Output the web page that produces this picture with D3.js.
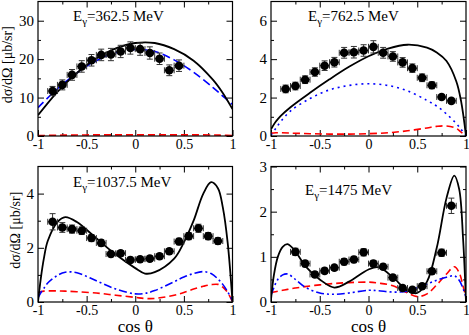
<!DOCTYPE html>
<html lang="en">
<head>
    <meta charset="UTF-8">
    <title>Cross sections</title>
    <script src="https://d3js.org/d3.v7.min.js"></script>
    <style>
        body { margin: 0; background: white; }
        svg, svg text { font-family: "Liberation Serif", "DejaVu Serif", "Times New Roman", serif; }
        .frame { fill: none; stroke: black; stroke-width: 1.2px; }
        .axis path { display: none; }
        .axis line { stroke: black; stroke-width: 1px; }
        .axis text { font-size: 15px; fill: black; }
        .xaxis text { font-size: 14px; }
        .err { stroke: #333; stroke-width: 1px; }
    </style>
</head>
<body>
<svg id="canvas" width="469" height="335"></svg>
<script>
    // bin centres in cos theta
    const cosBins = [-0.85,-0.75,-0.65,-0.55,-0.45,-0.35,-0.25,-0.15,-0.05,0.05,0.15,0.25,0.35,0.45,0.55,0.65,0.75,0.85];

    // 362.5 MeV
    const d362 = [11.7,13.3,15.9,18.1,19.7,21.1,21.2,22.0,22.9,22.6,21.6,20.1,17.1,18.3];
    const e362 = [1.2,1.3,1.4,1.5,1.5,1.5,1.6,1.6,1.6,1.6,1.6,1.5,1.4,1.5];
    const g362 = [-1,-0.8,-0.6,-0.4,-0.2,0,0.2,0.4,0.6,0.8,0.9,1];
    const full362 = [5.4,11.5,16.4,20.2,22.8,24.2,24.2,22.6,19.6,14.6,11.2,7.0];
    const blue362 = [7.4,12.3,16.4,19.6,21.7,22.5,22.0,19.8,16.6,12.6,10.4,8.2];
    const red362 = [0.1,0.2,0.25,0.3,0.3,0.3,0.3,0.3,0.3,0.25,0.2,0.1];

    // 762.5 MeV
    const d762 = [2.45,2.6,2.93,3.33,3.66,3.84,4.33,4.36,4.45,4.64,4.33,4.14,3.83,3.53,3.03,2.64,2.03,1.83];
    const e762 = [0.2,0.2,0.2,0.22,0.25,0.25,0.28,0.3,0.3,0.32,0.28,0.25,0.25,0.22,0.2,0.18,0.12,0.12];
    const g762 = [-1,-0.95,-0.9,-0.8,-0.6,-0.4,-0.2,0,0.2,0.4,0.6,0.7,0.8,0.9,0.95,1];
    const full762 = [0.35,0.75,1.05,1.5,2.25,2.95,3.6,4.15,4.55,4.75,4.6,4.35,3.9,2.85,1.8,0];
    const blue762 = [0.05,0.4,0.75,1.3,1.95,2.4,2.63,2.72,2.63,2.35,1.85,1.55,1.15,0.65,0.35,0];
    const red762 = [0.15,0.17,0.17,0.15,0.12,0.1,0.1,0.12,0.17,0.27,0.42,0.5,0.52,0.4,0.2,0];

    // 1037.5 MeV
    const d1037 = [2.96,2.75,2.69,2.63,2.36,2.18,1.77,1.8,1.55,1.58,1.6,1.69,1.87,2.23,2.43,2.72,2.43,2.25];
    const e1037 = [0.3,0.18,0.15,0.14,0.13,0.12,0.1,0.1,0.1,0.1,0.1,0.1,0.1,0.12,0.13,0.15,0.13,0.12];
    const g1037 = [-1,-0.97,-0.94,-0.9,-0.8,-0.72,-0.6,-0.4,-0.2,0,0.1,0.2,0.4,0.5,0.6,0.7,0.78,0.85,0.9,0.95,1];
    const full1037 = [0,0.9,1.6,2.25,2.95,3.13,2.95,2.35,1.75,1.25,1.05,1.1,1.6,2.2,3.0,4.0,4.42,4.2,3.5,2.2,0];
    const dashDot1037 = [0.15,0.35,0.5,0.7,0.98,1.1,1.08,0.78,0.48,0.3,0.32,0.42,0.75,0.92,1.05,1.12,1.05,0.85,0.65,0.38,0.05];
    const red1037 = [0.35,0.38,0.4,0.41,0.41,0.4,0.38,0.33,0.25,0.17,0.13,0.13,0.25,0.35,0.48,0.58,0.64,0.65,0.55,0.35,0];

    // 1475 MeV
    const d1475 = [1.11,0.85,0.61,0.69,0.76,0.89,0.94,1.10,0.85,0.78,0.54,0.31,0.27,0.35,0.68,1.09,2.13];
    const e1475 = [0.08,0.07,0.06,0.06,0.06,0.07,0.07,0.08,0.07,0.06,0.05,0.04,0.04,0.05,0.06,0.08,0.17];
    const g1475 = [-1,-0.97,-0.93,-0.88,-0.83,-0.75,-0.65,-0.5,-0.35,-0.2,0,0.1,0.25,0.4,0.5,0.6,0.7,0.8,0.88,0.93,0.97,1];
    const full1475 = [0.05,0.6,1.0,1.22,1.28,1.12,0.8,0.5,0.32,0.45,0.72,0.77,0.55,0.25,0.2,0.45,1.2,2.3,2.8,2.5,1.4,0];
    const red1475 = [0.2,0.22,0.24,0.26,0.28,0.31,0.34,0.38,0.41,0.43,0.44,0.42,0.36,0.2,0.12,0.18,0.38,0.62,0.78,0.65,0.35,0.1];
    const dashDotDot1475 = [0.15,0.32,0.5,0.6,0.62,0.5,0.33,0.2,0.17,0.2,0.26,0.25,0.22,0.24,0.32,0.4,0.48,0.55,0.58,0.48,0.3,0.1];

    const xMajor = [-1,-0.5,0,0.5,1];
    const xMinor = [-0.75,-0.25,0.25,0.75];

    let svg = d3.select('#canvas');

    let panels = [
        {energy:'362.5', x:38, y:1.5, w:194.5, h:134.5, ymax:35, major:[0,10,20,30], minor:[5,15,25],
         px:cosBins.slice(0,14), py:d362, pe:e362, grid:g362, tx:73, ty:21, labX:12,
         curves:[{v:red362, c:'red', dash:'7,4'},{v:blue362, c:'blue', dash:'8,4'},{v:full362, c:'black', dash:null}]},
        {energy:'762.5', x:271, y:1.5, w:195, h:134.5, ymax:7, major:[0,2,4,6], minor:[1,3,5],
         px:cosBins, py:d762, pe:e762, grid:g762, tx:308, ty:21,
         curves:[{v:red762, c:'red', dash:'7,4'},{v:blue762, c:'blue', dash:'2,4'},{v:full762, c:'black', dash:null}]},
        {energy:'1037.5', x:38, y:166.5, w:194.5, h:135.5, ymax:5, major:[0,2,4], minor:[1,3], xlabel:true,
         px:cosBins, py:d1037, pe:e1037, grid:g1037, tx:73, ty:187, labX:20,
         curves:[{v:red1037, c:'red', dash:'7,4'},{v:dashDot1037, c:'blue', dash:'8,3,2,3'},{v:full1037, c:'black', dash:null}]},
        {energy:'1475', x:271, y:166.5, w:195, h:135.5, ymax:3, major:[0,1,2,3], minor:[0.5,1.5,2.5], xlabel:true,
         px:cosBins.slice(1), py:d1475, pe:e1475, grid:g1475, tx:305, ty:195,
         curves:[{v:red1475, c:'red', dash:'7,4'},{v:dashDotDot1475, c:'blue', dash:'8,3,2,3,2,3'},{v:full1475, c:'black', dash:null}]}
    ];

    // axis helper: strip d3's own font settings so the serif face applies
    function addAxis(g, axis, tx, ty, cls){
        g.append('g').attr('class','axis ' + (cls || '')).attr('transform','translate('+tx+','+ty+')')
            .call(axis)
            .attr('font-family', null)
            .attr('font-size', null);
    }
    // plain hyphen minus, like the original plot
    let plain = function(d){ return String(d); };

    panels.forEach(function(p){
        let xs = d3.scaleLinear().domain([-1,1]).range([p.x, p.x+p.w]);
        let ys = d3.scaleLinear().domain([0,p.ymax]).range([p.y+p.h, p.y]);
        let g = svg.append('g');

        let clipId = 'clip' + p.energy.replace('.','_');
        g.append('clipPath').attr('id', clipId)
            .append('rect').attr('x', p.x).attr('y', p.y).attr('width', p.w).attr('height', p.h);

        // ticks, inward on all four sides
        addAxis(g, d3.axisBottom(xs).tickValues(xMajor).tickSizeInner(-6).tickPadding(3).tickFormat(plain), 0, p.y+p.h, 'xaxis');
        addAxis(g, d3.axisBottom(xs).tickValues(xMinor).tickSizeInner(-3).tickFormat(''), 0, p.y+p.h);
        addAxis(g, d3.axisTop(xs).tickValues(xMajor.slice(1,4)).tickSizeInner(-6).tickFormat(''), 0, p.y);
        addAxis(g, d3.axisTop(xs).tickValues(xMinor).tickSizeInner(-3).tickFormat(''), 0, p.y);
        addAxis(g, d3.axisLeft(ys).tickValues(p.major).tickSizeInner(-6).tickPadding(4).tickFormat(plain), p.x, 0);
        addAxis(g, d3.axisLeft(ys).tickValues(p.minor).tickSizeInner(-3).tickFormat(''), p.x, 0);
        addAxis(g, d3.axisRight(ys).tickValues(p.major).tickSizeInner(-6).tickFormat(''), p.x+p.w, 0);
        addAxis(g, d3.axisRight(ys).tickValues(p.minor).tickSizeInner(-3).tickFormat(''), p.x+p.w, 0);

        // model curves
        let line = d3.line()
            .x(function(d){ return xs(d[0]); })
            .y(function(d){ return ys(d[1]); })
            .curve(d3.curveCatmullRom.alpha(0.5));
        p.curves.forEach(function(c){
            g.append('path')
                .attr('clip-path', 'url(#'+clipId+')')
                .attr('d', line(d3.zip(p.grid, c.v)))
                .attr('fill','none')
                .attr('stroke', c.c)
                .attr('stroke-width', c.c == 'black' ? 1.8 : 1.6)
                .attr('stroke-dasharray', c.dash);
        });

        // data with error bars
        let pts = d3.zip(p.px, p.py, p.pe);
        let eg = g.append('g');
        pts.forEach(function(d){
            let cx = xs(d[0]), cy = ys(d[1]);
            let top = ys(d[1]+d[2]), bot = ys(d[1]-d[2]);
            let xl = xs(d[0]-0.05), xr = xs(d[0]+0.05);
            eg.append('line').attr('class','err').attr('x1',cx).attr('x2',cx).attr('y1',top).attr('y2',bot);
            eg.append('line').attr('class','err').attr('x1',cx-3).attr('x2',cx+3).attr('y1',top).attr('y2',top);
            eg.append('line').attr('class','err').attr('x1',cx-3).attr('x2',cx+3).attr('y1',bot).attr('y2',bot);
            eg.append('line').attr('class','err').attr('x1',xl).attr('x2',xr).attr('y1',cy).attr('y2',cy);
            eg.append('line').attr('class','err').attr('x1',xl).attr('x2',xl).attr('y1',cy-3).attr('y2',cy+3);
            eg.append('line').attr('class','err').attr('x1',xr).attr('x2',xr).attr('y1',cy-3).attr('y2',cy+3);
        });
        g.selectAll('circle.pt').data(pts).enter().append('circle')
            .attr('class','pt')
            .attr('cx', function(d){ return xs(d[0]); })
            .attr('cy', function(d){ return ys(d[1]); })
            .attr('r', 4.3)
            .attr('fill','black');

        g.append('rect').attr('class','frame')
            .attr('x', p.x).attr('y', p.y).attr('width', p.w).attr('height', p.h);

        // energy label
        let t = g.append('text').attr('x', p.tx).attr('y', p.ty).attr('font-size', 15);
        t.append('tspan').text('E');
        t.append('tspan').attr('font-size', 11).attr('dy', 4).text('\u03b3');
        t.append('tspan').attr('dy', -4).text('=' + p.energy + ' MeV');

        if(p.labX){
            g.append('text')
                .attr('transform', 'translate('+p.labX+','+(p.y+p.h/2 - 4)+') rotate(-90)')
                .attr('text-anchor','middle')
                .attr('font-size', 14)
                .text('d\u03c3/d\u03a9 [\u03bcb/sr]');
        }
        if(p.xlabel){
            g.append('text')
                .attr('x', xs(0)).attr('y', 332)
                .attr('text-anchor','middle')
                .attr('font-size', 17)
                .text('cos \u03b8');
        }
    });
</script>
</body>
</html>
